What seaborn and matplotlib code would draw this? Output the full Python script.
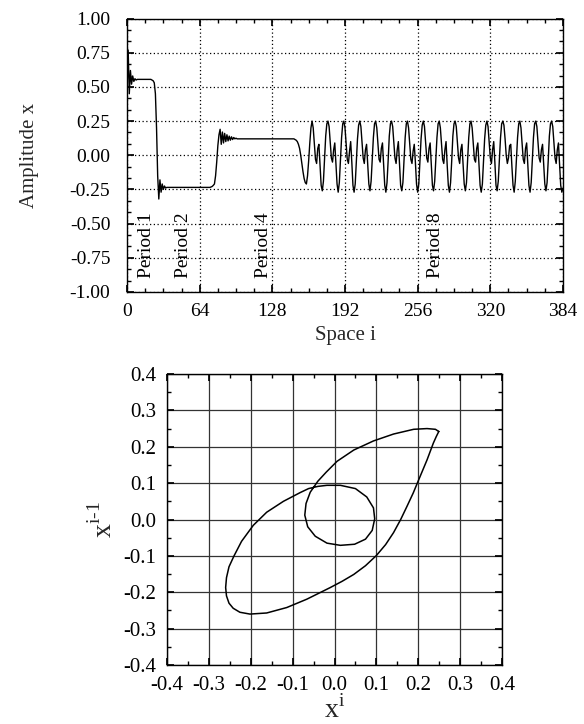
import numpy as np
import pandas as pd
import matplotlib
matplotlib.use("Agg")
import matplotlib.pyplot as plt
import seaborn as sns
from matplotlib.ticker import MultipleLocator, FormatStrFormatter

# --- data ---
# top panel: amplitude x at each space index i (0..384), split in pieces
amp_start = [0.46, 0.77, 0.45, 0.62, 0.52, 0.58, 0.54, 0.56]
amp_period1 = [0.55, 0.555, 0.555, 0.555, 0.555, 0.555, 0.555, 0.555,
               0.555, 0.555, 0.555, 0.555, 0.555, 0.555, 0.55]
amp_drop = [0.545, 0.53, 0.45, 0.20, -0.15, -0.32, -0.18, -0.27, -0.21,
            -0.25, -0.225, -0.24]
amp_period2 = [-0.235, -0.235, -0.235, -0.235, -0.235, -0.235, -0.235,
               -0.235, -0.235, -0.235, -0.235, -0.235, -0.235, -0.235,
               -0.235, -0.235, -0.235, -0.235, -0.235, -0.235, -0.235,
               -0.235, -0.235, -0.235, -0.235, -0.235, -0.235, -0.235,
               -0.235, -0.235, -0.235, -0.235, -0.235, -0.235, -0.235,
               -0.235, -0.235, -0.235, -0.235, -0.232, -0.228, -0.22]
amp_rise = [-0.21, -0.15, -0.05, 0.07, 0.15, 0.19, 0.08, 0.17, 0.09, 0.16,
            0.10, 0.15, 0.105, 0.14, 0.11, 0.135, 0.115, 0.13, 0.12, 0.125]
amp_period4 = [0.12, 0.12, 0.12, 0.12, 0.12, 0.12, 0.12, 0.12, 0.12, 0.12,
               0.12, 0.12, 0.12, 0.12, 0.12, 0.12, 0.12, 0.12, 0.12, 0.12,
               0.12, 0.12, 0.12, 0.12, 0.12, 0.12, 0.12, 0.12, 0.12, 0.12,
               0.12, 0.12, 0.12, 0.12, 0.12, 0.12, 0.12, 0.12, 0.12, 0.12,
               0.12, 0.12, 0.12, 0.12, 0.12, 0.12, 0.12, 0.12, 0.12, 0.12,
               0.12]
amp_bend = [0.115, 0.11, 0.10, 0.08, 0.05, 0.0, -0.06, -0.12, -0.17, -0.20,
            -0.21, -0.15, -0.04, 0.09, 0.20]
amp_period8 = [
    0.25, 0.20, 0.09, -0.03, -0.06, 0.05, 0.08, -0.07, -0.22, -0.26, -0.19, -0.03, 0.14, 0.23,
    0.25, 0.21, 0.10, -0.02, -0.05, 0.04, 0.09, -0.06, -0.21, -0.27, -0.20, -0.04, 0.13, 0.23,
    0.25, 0.20, 0.08, -0.03, -0.06, 0.03, 0.10, -0.05, -0.22, -0.27, -0.21, -0.05, 0.12, 0.22,
    0.25, 0.21, 0.10, -0.02, -0.06, 0.04, 0.08, -0.06, -0.21, -0.26, -0.19, -0.03, 0.13, 0.23,
    0.25, 0.20, 0.09, -0.03, -0.05, 0.05, 0.09, -0.07, -0.22, -0.27, -0.20, -0.04, 0.14, 0.23,
    0.25, 0.21, 0.10, -0.02, -0.06, 0.04, 0.10, -0.06, -0.22, -0.26, -0.20, -0.04, 0.13, 0.23,
    0.25, 0.20, 0.09, -0.03, -0.06, 0.03, 0.08, -0.05, -0.21, -0.27, -0.21, -0.05, 0.12, 0.22,
    0.25, 0.21, 0.10, -0.02, -0.05, 0.05, 0.09, -0.06, -0.22, -0.26, -0.19, -0.03, 0.13, 0.23,
    0.25, 0.20, 0.09, -0.03, -0.06, 0.04, 0.10, -0.07, -0.22, -0.27, -0.20, -0.04, 0.14, 0.23,
    0.25, 0.21, 0.10, -0.02, -0.06, 0.04, 0.08, -0.06, -0.21, -0.26, -0.20, -0.04, 0.13, 0.23,
    0.25, 0.20, 0.09, -0.03, -0.05, 0.05, 0.09, -0.06, -0.22, -0.27, -0.21, -0.05, 0.12, 0.22,
    0.25, 0.21, 0.10, -0.02, -0.06, 0.04, 0.10, -0.05, -0.22, -0.26, -0.19, -0.03, 0.13, 0.23,
    0.25, 0.22, 0.12, 0.00, -0.06, -0.02, 0.07, 0.08, -0.08, -0.22, -0.27, -0.19, -0.03, 0.13, 0.23,
    0.25, 0.20, 0.09, -0.03, -0.06, 0.05, 0.09, -0.06, -0.22, -0.27, -0.20, -0.04, 0.13, 0.23,
    0.25, 0.21, 0.10, -0.02, -0.05, 0.04, 0.08, -0.07, -0.21, -0.26, -0.20, -0.04, 0.14, 0.23,
    0.25, 0.21, 0.10, -0.02, -0.06, 0.04, 0.09, -0.06, -0.22, -0.27, -0.24,
]

period_labels = ["Period 1", "Period 2", "Period 4", "Period 8"]
period_pos = [17.5, 50, 120, 272]

# bottom panel: return map x^{i-1} vs x^i (one closed curve)
map_xi = [0.249, 0.243, 0.236, 0.221, 0.201, 0.188, 0.173, 0.158, 0.141,
          0.122, 0.100, 0.074, 0.046, 0.018, -0.010, -0.038, -0.066, -0.114,
          -0.162, -0.202, -0.226, -0.242, -0.252, -0.258, -0.260, -0.258,
          -0.252, -0.240, -0.222, -0.194, -0.162, -0.122, -0.082, -0.062,
          -0.040, -0.018, 0.014, 0.050, 0.077, 0.093, 0.096, 0.090, 0.074,
          0.048, 0.014, -0.018, -0.046, -0.064, -0.071, -0.068, -0.058,
          -0.040, -0.020, 0.006, 0.046, 0.093, 0.141, 0.189, 0.221, 0.241,
          0.249]
map_xim1 = [0.242, 0.228, 0.210, 0.164, 0.109, 0.073, 0.036, 0.000, -0.036,
            -0.069, -0.099, -0.127, -0.151, -0.170, -0.187, -0.203, -0.219,
            -0.242, -0.257, -0.260, -0.255, -0.244, -0.230, -0.210, -0.187,
            -0.160, -0.130, -0.100, -0.060, -0.016, 0.020, 0.050, 0.074,
            0.085, 0.091, 0.094, 0.094, 0.085, 0.062, 0.032, 0.002, -0.030,
            -0.054, -0.068, -0.071, -0.065, -0.046, -0.020, 0.012, 0.044,
            0.075, 0.105, 0.130, 0.160, 0.191, 0.216, 0.235, 0.248, 0.250,
            0.248, 0.242]

amp = (amp_start + amp_period1 + amp_drop + amp_period2 + amp_rise
       + amp_period4 + amp_bend + amp_period8)
df_amp = pd.DataFrame({"i": np.arange(len(amp)), "x": amp})
df_map = pd.DataFrame({"xi": map_xi, "xim1": map_xim1})

sns.set_theme(style="ticks")
plt.rcParams["font.family"] = ["Liberation Serif", "DejaVu Serif"]
plt.rcParams["mathtext.fontset"] = "custom"
plt.rcParams["mathtext.rm"] = "Liberation Serif"
plt.rcParams["axes.unicode_minus"] = False
plt.rcParams["axes.edgecolor"] = "black"
plt.rcParams["axes.linewidth"] = 1.0

fig = plt.figure(figsize=(5.84, 7.24), dpi=100)

# --- top: amplitude vs space ---
ax1 = fig.add_axes([0.2175, 0.5967, 0.7465, 0.3777])
sns.lineplot(data=df_amp, x="i", y="x", ax=ax1, color="black", lw=1.0,
             estimator=None, sort=False)
ax1.set_xlim(0, 384)
ax1.set_ylim(-1, 1)
ax1.xaxis.set_major_locator(MultipleLocator(64))
ax1.xaxis.set_minor_locator(MultipleLocator(16))
ax1.yaxis.set_major_locator(MultipleLocator(0.25))
ax1.yaxis.set_minor_locator(MultipleLocator(0.25 / 3))
ax1.yaxis.set_major_formatter(FormatStrFormatter("%.2f"))
ax1.grid(True, which="major", color="black", linestyle=(0, (1, 2)), lw=0.9)
ax1.tick_params(which="both", direction="in", top=True, right=True,
                colors="black", labelsize=14)
ax1.tick_params(which="major", length=5)
ax1.tick_params(which="minor", length=3)
ax1.tick_params(axis="x", pad=8)
ax1.tick_params(axis="y", pad=12)
ax1.set_xlabel("Space i", fontsize=15, labelpad=4)
ax1.set_ylabel("Amplitude x", fontsize=15, labelpad=22)
for lab, pos in zip(period_labels, period_pos):
    ax1.text(pos, -0.9, lab, rotation=90, ha="center", va="bottom",
             fontsize=14, color="black")

# --- bottom: return map ---
ax2 = fig.add_axes([0.286, 0.0815, 0.5736, 0.4019])
sns.lineplot(data=df_map, x="xi", y="xim1", ax=ax2, color="black", lw=1.1,
             estimator=None, sort=False)
ax2.set_xlim(-0.4, 0.4)
ax2.set_ylim(-0.4, 0.4)
ax2.xaxis.set_major_locator(MultipleLocator(0.1))
ax2.xaxis.set_minor_locator(MultipleLocator(0.05))
ax2.yaxis.set_major_locator(MultipleLocator(0.1))
ax2.yaxis.set_minor_locator(MultipleLocator(0.05))
ax2.xaxis.set_major_formatter(FormatStrFormatter("%.1f"))
ax2.yaxis.set_major_formatter(FormatStrFormatter("%.1f"))
ax2.grid(True, which="major", color="#333333", linestyle="-", lw=0.9)
ax2.tick_params(which="both", direction="in", top=True, right=True,
                colors="black", labelsize=15)
ax2.tick_params(which="major", length=5)
ax2.tick_params(which="minor", length=3)
ax2.tick_params(axis="x", pad=8)
ax2.tick_params(axis="y", pad=8)
ax2.set_xlabel(r"$\mathrm{x}^{\mathrm{i}}$", fontsize=20, labelpad=0)
ax2.set_ylabel(r"$\mathrm{x}^{\mathrm{i}\text{-}\mathrm{1}}$", fontsize=20,
               labelpad=4)

fig.savefig("out.png", dpi=100)
